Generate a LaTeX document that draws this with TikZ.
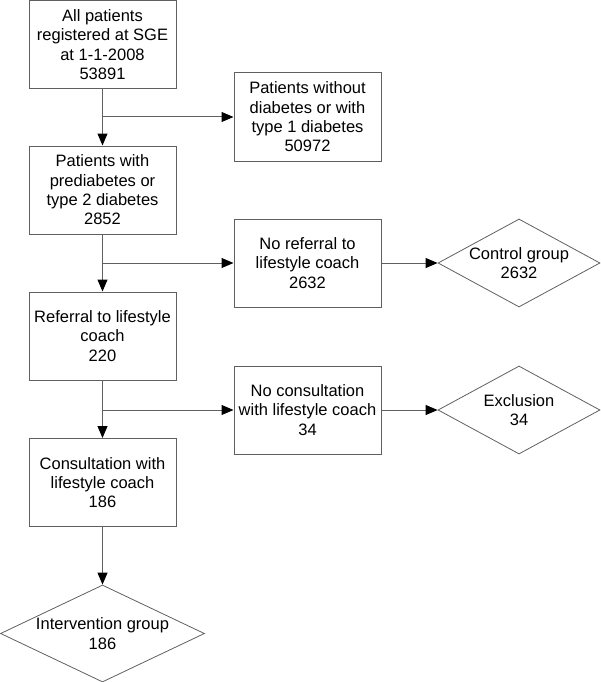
\documentclass[tikz,border=0pt]{standalone}
\usepackage{fontspec}
\setmainfont{Liberation Sans}
\usetikzlibrary{arrows.meta,shapes.geometric}
\definecolor{lc}{HTML}{606060}
\tikzset{
  every node/.style={font=\fontsize{16.5}{19.3}\selectfont, align=center},
  box/.style={draw=lc, line width=1pt, rectangle, minimum width=147pt, minimum height=88pt, inner sep=0pt},
  diam/.style={draw=lc, line width=0.8pt, diamond, inner sep=0pt},
  conn/.style={draw=lc, line width=1pt, -{Triangle[length=12pt,width=10pt,color=black]}},
  plain/.style={draw=lc, line width=1pt},
}
\begin{document}
\begin{tikzpicture}[x=1pt,y=-1pt]
\useasboundingbox (0,0) rectangle (600,682);
\node[box] (b1) at (102.5,44.5) {All patients\\registered at SGE\\at 1-1-2008\\53891};
\node[box] (b2) at (307.5,117) {Patients without\\diabetes or with\\type 1 diabetes\\50972};
\node[box] (b3) at (102.5,190) {Patients with\\prediabetes or\\type 2 diabetes\\2852};
\node[box] (b4) at (307.5,263) {No referral to\\lifestyle coach\\2632};
\node[diam, minimum width=162pt, minimum height=88pt] (d1) at (519,263) {};
\node (d1t) at (d1.center) {Control group\\2632};
\node[box] (b5) at (102.5,336) {Referral to lifestyle\\coach\\220};
\node[box] (b6) at (307.5,410) {No consultation\\with lifestyle coach\\34};
\node[diam, minimum width=162pt, minimum height=88pt] (d2) at (519,410) {};
\node (d2t) at (d2.center) {Exclusion\\34};
\node[box] (b7) at (102.5,482.5) {Consultation with\\lifestyle coach\\186};
\node[diam, minimum width=204pt, minimum height=97pt] (d3) at (102.5,633.5) {};
\node (d3t) at (d3.center) {Intervention group\\186};
\draw[conn] (b1.south) -- (b3.north);
\draw[conn] (b1.south |- b2.west) -- (b2.west);
\draw[conn] (b3.south) -- (b5.north);
\draw[conn] (b3.south |- b4.west) -- (b4.west);
\draw[conn] (b4.east) -- (d1.west);
\draw[conn] (b5.south) -- (b7.north);
\draw[conn] (b5.south |- b6.west) -- (b6.west);
\draw[conn] (b6.east) -- (d2.west);
\draw[conn] (b7.south) -- (d3.north);
\end{tikzpicture}
\end{document}
